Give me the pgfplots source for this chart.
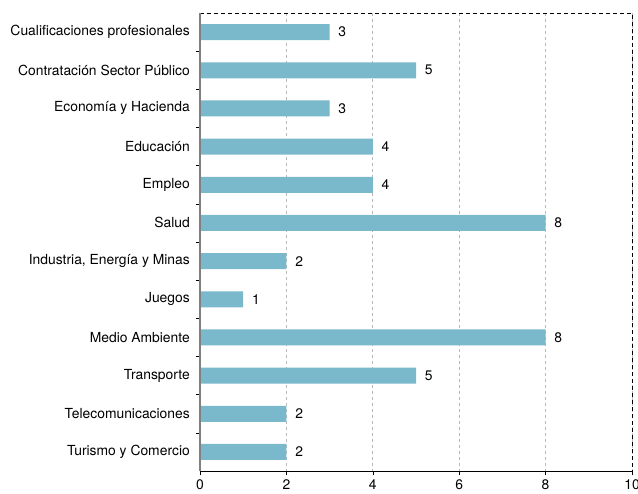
\documentclass[border=0pt]{standalone}
\usepackage{pgfplots}
\pgfplotsset{compat=1.18}
\usepackage{fontspec}
\setmainfont{TeX Gyre Heros}
\definecolor{barblue}{RGB}{122,184,203}
\begin{document}
\fontsize{10.4}{12}\selectfont
\begin{tikzpicture}
\begin{axis}[
    name=ax,
    scale only axis,
    width=324pt, height=343.5pt,
    xbar, bar width=12pt,
    xmin=0, xmax=10,
    ymin=-0.5, ymax=11.5, y dir=reverse,
    xtick={0,2,...,10},
    ytick={0,...,11},
    yticklabels={Cualificaciones profesionales, Contratación Sector Público,
        Economía y Hacienda, Educación, Empleo, Salud,
        {Industria, Energía y Minas}, Juegos, Medio Ambiente, Transporte,
        Telecomunicaciones, Turismo y Comercio},
    minor ytick={0.5,1.5,...,10.5},
    xtick pos=bottom, ytick pos=left,
    tick align=outside,
    major tick length=3pt, minor tick length=3pt,
    every major y tick/.append style={draw=none},
    every minor y tick/.append style={black, thin},
    every major x tick/.append style={black, thin},
    axis line style={draw=none},
    xmajorgrids=true,
    grid style={gray!55, line width=0.7pt, dash pattern=on 2.5pt off 2pt},
    /pgf/number format/assume math mode=true,
    ticklabel style={font=\fontsize{10.4}{12}\selectfont},
    yticklabel style={xshift=-1pt},
    nodes near coords,
    every node near coord/.append style={font=\fontsize{10.4}{12}\selectfont, xshift=3pt},
]
\addplot[fill=barblue, draw=none] coordinates {
    (3,0) (5,1) (3,2) (4,3) (4,4) (8,5) (2,6) (1,7) (8,8) (5,9) (2,10) (2,11)
};
\end{axis}
\draw[dash pattern=on 3pt off 2.25pt, line width=0.6pt] (ax.north west) -- (ax.north east) -- (ax.south east);
\draw[black, line width=0.75pt] (ax.south west) -- (ax.south east);
\draw[gray, line width=1.5pt] (ax.south west) -- (ax.north west);
\pgfresetboundingbox
\path[use as bounding box] ([xshift=-150pt,yshift=-16.5pt]ax.south west) rectangle ([xshift=4.5pt,yshift=9.75pt]ax.north east);
\end{tikzpicture}
\end{document}
